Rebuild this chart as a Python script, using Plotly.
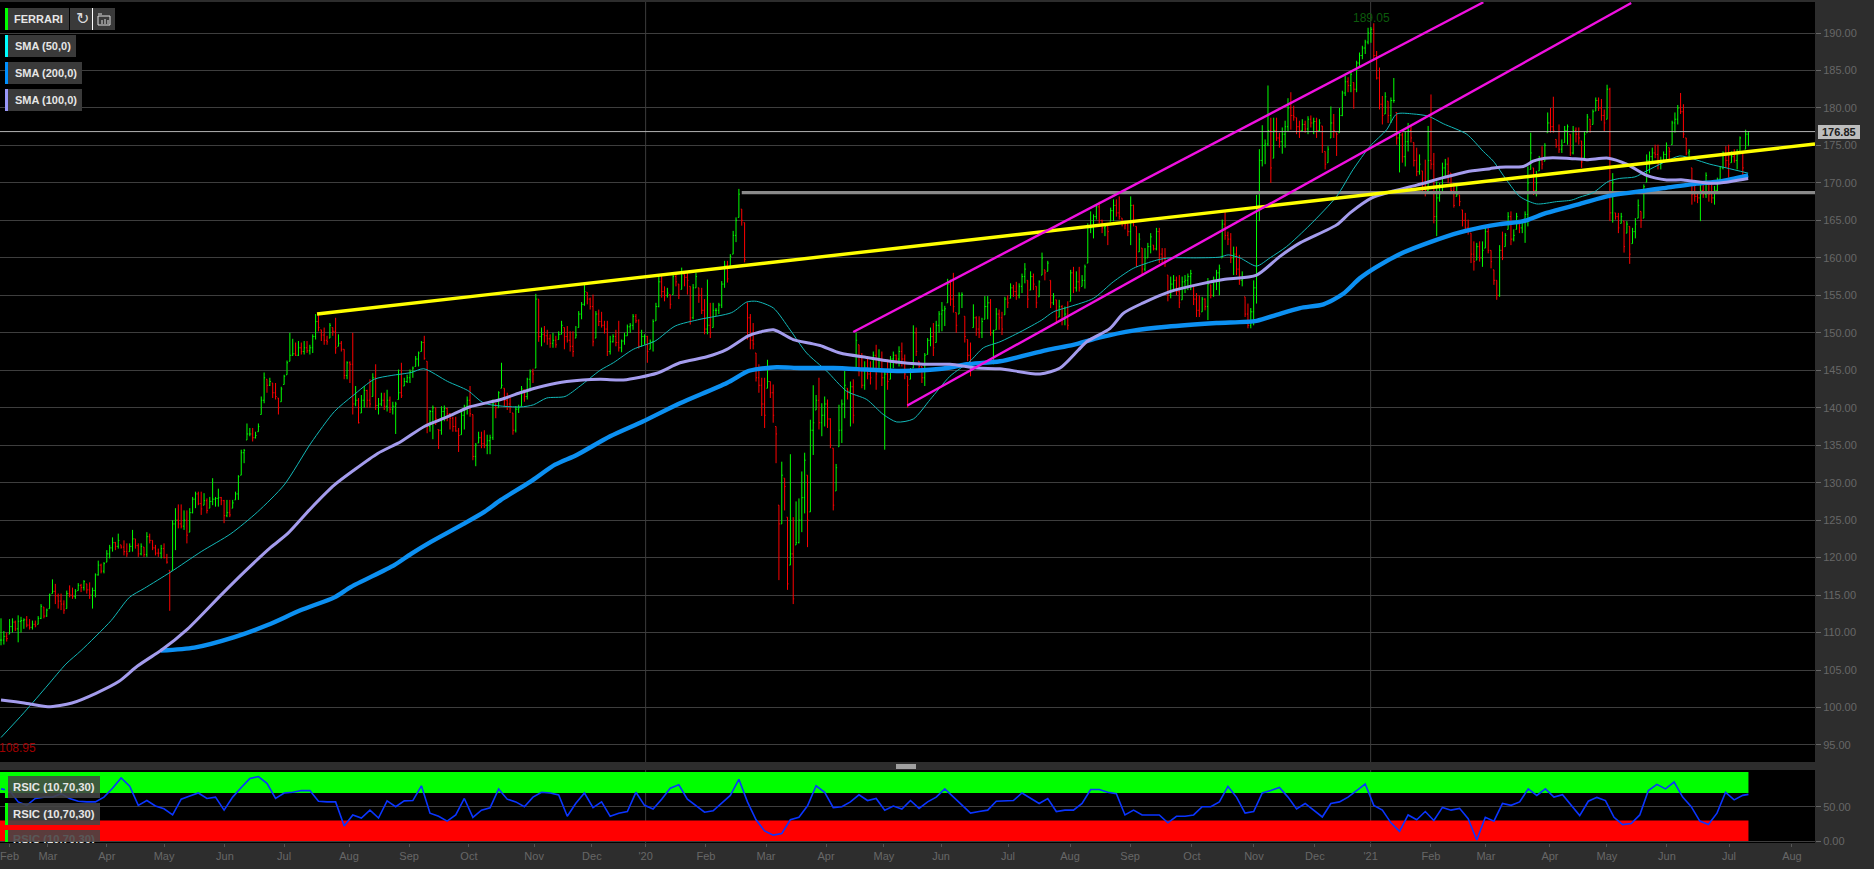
import numpy as np
import plotly.graph_objects as go

# ---- price bars (high / low / close), four stretches of the session axis
highs_2019a = [111.9,110.2,110,111.8,111.9,111.6,112.3,112.1,111.9,112.2,
111.8,111.6,111.6,112.2,113.8,113.4,113.2,115.2,117.1,116.5,
115.2,115.2,114.3,115.6,116.3,116,115.8,116.6,116.5,117,
116.5,116.7,116,117.9,119.6,119.2,119.4,121,121.7,122.7,
122.1,123.2,121.7,122.3,121.9,121.9,123.7,122.5,121.9,121.9,
121.4,123.4,123.2,122.3,121.7,121.2,121.7,121.9,120.5,118.3,
125,126.6,127.1,127.1,126.3,126.3,126.6,128.1,128.8,128.8,
128.8,128.6,127.9,128.1,130.6,128.1,129.2,128.1,127.7,127.7,
127.7,127.7,128.8,131,134.4,134.5,137.9,137.3,137.3,136.8,
137.9,141.5,144.7,143.8,144,143.3,143.3,141.3,142.8,144.4,
146.3,150,149.2,148.7,148.9,148.7,148.9,148.9,148.4,149.8,
152.5,152.5,150.4,150.7,149.6,151.3,150.7,152,149.8,148.9,
147.8,146.2,146.2,150,142.9,141.3,141.7,142.9,142.4,143.8,
144.6,145.8,141.3,142,142,142.4,141.5,140.8,140.8,145.1,
146,144,144.4,145.1,145.5,146.9,147.5,148.9,149.6,146.2,
139.7,140.3,140,137.1,140.2,140.3,140,139.3,138.8,138.8,
137.3,139.7,140.4,141.5,142.9,139.1,135.3,136.8,136.8,137,
136.4,136.4,141.1,140.6,142.2]
lows_2019a = [108.3,108.4,108.8,109.8,110,110.2,108.7,110,110.5,110.7,
110.4,110.4,110.7,111.1,111.8,111.9,112.1,113.2,115.2,113.8,
113.2,113,112.5,113.2,114.7,114.5,114.5,115.6,115.4,115.6,
115.2,114.5,113.2,114.7,117.6,117.9,117.9,119.4,119.9,120.8,
121,121.2,121.2,120.3,120.1,120.8,120.8,121.2,120.1,120.3,
120.1,120.1,121.9,121,120.3,120.1,119.9,119.9,119.2,112.9,
118.3,121,123.9,123.9,123.7,121.9,123.4,125.9,126.6,127,
125.7,127,125.9,126.6,127,126.8,126.8,127,124.6,125.4,
125.4,126.6,127.7,127.7,131,132.6,135.7,136.2,135.5,135.9,
136.8,139.1,140.6,142,142.9,141.3,141.1,139.1,140.8,143.1,
144.4,146.2,146.9,146.9,146.9,147.1,147.1,147.3,147.1,147.3,
149.1,150.2,148.9,148.4,148.4,149.3,149.6,147.2,148.2,147.5,
143.8,143.8,143.3,139.1,140.2,137.9,139.3,140,140,140,
141.5,139.7,139.1,140.2,139.7,139.5,139.3,139.1,136.5,141.1,
141.3,142.9,143.3,143.3,144,145.5,145.5,147.5,146.4,136.6,
136.8,135.8,137.7,134.5,136.4,138.2,138.2,137.1,136.8,136.8,
134.1,136.4,137.1,139.1,138.8,133,132.2,135.3,134.6,134.6,
133.8,133.8,135.7,138.6,140]
closes_2019a = [109,109.5,109.2,110.8,111.4,110.5,111.5,111.6,111.7,111,
110.7,111.1,110.9,111.9,113.5,112.2,113,115,115.5,114.9,
114.2,113.8,113,115.2,115,114.8,115.5,116.3,116,116.8,
115.7,115,115.6,117.7,119,118.2,119.2,120.5,121.3,122,
121.5,122.3,121.4,120.8,120.5,121.5,122.5,121.6,120.5,121.5,
120.4,122.8,122.3,121.3,120.6,120.6,121.2,120,119.4,118,
124.5,125,124.5,124.2,125,123,126,127.8,128.5,127.2,
126.5,127.6,126.3,127.5,127.8,127.9,128,127.6,125.6,126,
125.7,127.3,128.5,130.8,134,134.3,136.5,136.5,136,136.3,
137.5,141,144,143,143.5,142,141.5,140,142.5,144.2,
146,147,147.2,147,148,147.5,148,147.6,148,149.5,
151.5,150.7,149.7,149,148.8,151,150.2,148,148.6,147.8,
144.3,146,145.8,140.5,141,138,141,142.3,141,140.5,
144,140.3,140.5,141,140.2,141,139.8,140.2,140.5,142,
141.6,143.5,144,144.8,145.3,146.5,147.3,148.7,146.6,137.5,
139.5,140,138.5,137,139.5,139.9,139.2,138.6,137.5,136.9,
136.3,139,140.2,141,139.2,133.5,135,136,135.2,135,
135.6,136,140.5,140,142]

highs_2019b = [146,142.6,142,141.5,139.3,140.2,140.4,142.9,142.4,144,
145.1,145.2,155.2,154.5,150.7,150.9,150.4,149.8,150,149.6,
150.2,151.6,150.7,150.9,150.2,150.2,150.9,152.9,154.1,156.4,
155.4,154.7,155.1,152.9,153.1,152.8,151.6,151.6,149.6,149.8,
150.4,151.6,149.1,150,151.1,151.3,152.5,152.5,151.8,150.4,
149.8,149.6,149.1,151.8,154,157.6,157.8,156.2,156,155.1,
158,157.8,156.5,158.7,157.8,158,156.2,156.5,158,156,
156,154.5,157.1,154,154,153.3,154,156.9,159.6,159.6,
160.5,163.6,165.4,169.2,166.5,164.7,154,152.5,151.3,147.3,
145.8,144,144,146.4,143.5,143.1,137.5,127,132.8,130.6,
125.4,133.8,125.4,127.5,127.9,131.5,134,131,138.4,143,
141.7,144,140.6,141.5,141.1,138.6,134.6,132.5,140.4,141.1,
144.9,142.6,143.5,143.8,150,148.4,147.3,146.2,146.9,146.2,
147.5,148.4,147.8,147.5,145.1,146.4,146.9,147.5,147.1,148.2,
148.7,147.1,144.2,145.3,151,150.7,146.2,145.5,147.3,149.3,
150.7,151.3,151.6,152.9,154.1,153.6,157.2,157.1,158,152.7,
155.4,155.4,152.2,149.1,148.7,153.8,152.2,152.2,152,154.9,
154.9,154.5,150.4,153.3,153.1]
lows_2019b = [142.6,140.2,139.7,139.3,136.4,136.7,139.3,140.2,140.8,141.1,
142.2,143.3,145.3,148.8,148.2,148.7,148.4,148,148,148,
149.1,149.8,147.8,148.7,147.5,146.8,149.3,150.7,151.8,153.6,
153.8,153.1,148.2,149.3,150.9,150.7,149.9,146.9,147.1,148.7,
148.2,147.5,147.4,148.4,149.6,150,150.4,151.3,147.9,148.2,
148.4,146,147.8,147.5,151.6,153.4,154.7,154.2,154.7,153.2,
155.1,156.2,154.5,155.8,156.2,155.1,151.1,151.8,156,154,
152.5,149.8,149.8,149.3,150.7,152.2,152.5,153.3,156,156.7,
158.9,160.5,162.1,165.4,164.3,159.4,149.1,147.8,147.8,143.5,
142,138.9,137.3,142.6,141.3,138,132.6,117,124.5,126.3,
115.7,119,113.8,121.7,121.9,123.4,125.9,121.4,126.1,133.7,
139.7,137.1,136.2,137.5,137.3,134.6,126.3,128.9,134.8,135.3,
138.6,141.1,137.5,137.9,145.3,144.2,142.6,142.4,143.8,143.1,
144.9,142.4,144.9,142.9,134.4,142.4,143.8,145.3,145.8,145.5,
145.5,143.8,140,143.8,145.3,146.9,145.1,143.3,142.9,147.1,
148.2,146.9,148.7,150,150.2,150.9,154,153.6,152.7,150,
152.5,153.3,148.7,146.2,144.2,150.7,149.6,149.3,149.3,151.8,
151.8,149.6,145.8,150.4,150.4]
closes_2019b = [143,141,140.5,140,137,139.8,140,142.5,141.5,143.8,
144.8,144.5,154.5,149.5,149.8,149.6,149.2,148.6,149,148.4,
149.8,151,149.5,149,148.2,147.5,149.7,152.5,153.8,155.5,
154.5,153.5,148.8,152.5,151.5,151,150.5,147.5,148.8,149.5,
148.7,148,148.9,149.6,150.8,151,152.2,151.6,148.2,149.5,
149.5,147.5,148.8,151.5,153.5,156.8,155.5,155,155.3,153.8,
157.5,156.8,155,158,157.4,157,152,156,157.5,155,
153,150.5,151,150,153,153,153.7,156.5,159,157.2,
160.2,163,165,168.5,165,159.8,152,149,148.5,144,
143,140.5,139,143.5,142,139,136.5,124.5,131,129.5,
116.5,120.5,114.5,122,125,128,133,125,137,138,
141,138,139,140.5,138.5,135,127,132,137,140.5,
143,142.2,142.8,139,149,145,143,145,144.5,144,
147,144.5,146.5,144,144.5,143.5,146.5,147,146.5,147.5,
146.5,144.5,143,145,150,147.5,145.5,144,147,149,
149.5,148,151,152.5,153,153.2,156.5,154.5,153.5,151,
155,155.1,149.5,147,145,152,150.5,150,151.5,153.5,
154,150,150.3,152.5,152]

highs_2020 = [152.8,154.8,155,156.6,156.4,156.8,156.6,157.9,159.3,157,
158.2,157.9,156.2,157,160.7,158.4,159.6,157,155.3,154.4,
154.4,153.7,153.5,154.2,158.4,158.8,158.2,158.8,157.7,159.1,
164.6,166.2,165.8,167.1,167.5,165.1,164.6,164.2,166.7,167.8,
167.8,168.2,165.3,164.9,164.9,168.2,167.1,164.2,163.3,161.3,
161.3,162,163.3,161.7,164,164,161.3,161.3,157.7,157.5,
157.7,157.5,157.7,157.5,157.7,157.9,158.4,156.2,155.3,155,
154.8,154.6,157.3,156.4,157.5,158.4,159.1,165.1,166.1,163.5,
163.3,161.5,161.5,160.4,158.2,154.8,153.9,153.3,157,168.4,
174.5,177.7,175.8,183,178.7,178.7,178.7,176.7,177.4,178.3,
181.3,182.1,180.3,178.7,178.3,178.5,178.3,178.9,179,178.7,
178.7,178.5,177.6,174.2,174.9,180.2,179.2,176.7,180,182.3,
184.3,184.1,185,183.4,186.3,187.4,188.3,189.1,190.7,190.8,
191.3,187.6,185.4,181.6,182.1,180.9,181.4,184,179.4,176.7,
176.7,176.9,178,177.6,175.4,174.7,173.8,171.6,173.1,177.6,
181.8,174,170.2,170,172.7,173.2,173.4,171.3,170,169.8,
168.4,166.4,166,165.1,163.3,162.2,162,162.2,162.2,164,
164.2,161,158.4,157]
lows_2020 = [149.7,152.4,153.3,154.6,154.8,154.4,154.6,155.3,156.6,153.3,
155.7,155.7,153.3,154.8,157.7,157,158.2,153.3,153.7,151.2,
152.1,151,151,150.4,154.2,155.3,155.5,155.5,156.2,155.9,
159.3,163.3,162.6,165.1,164.6,163.3,162.9,161.7,164.9,164.9,
165.5,165.1,164.2,163.8,162.9,161.7,164.2,158.8,160.8,157.7,
158.2,160,160.6,161,161,159.3,159.1,158.8,154.2,154.6,
155.5,155,153.3,154.4,155.3,155.7,155.7,153.7,152.1,152.1,
152.8,153,151.7,154.6,154.8,155.7,155,160,162.4,161.7,
159.3,157.7,157.7,156.4,156.2,152.1,150.6,150.6,151,153.9,
164.9,172.2,172.5,174.9,170,173.3,175.6,174.7,173.9,174.7,
176.9,177.1,178.3,176.5,176,176.9,176.7,176.5,177.4,176.5,
176,176.9,174,171.8,172.7,176,176,173.6,176.7,178.9,
181.6,182.1,182.1,179.9,182.1,185.4,186.5,187.2,188.5,188.7,
186.5,183.8,179.8,177.8,179.2,178,178,180.7,175.1,171.4,
172.7,172.2,174.2,175.4,172.2,170.9,171.1,168.9,168.2,168.7,
171.8,164.6,162.9,167.5,168.7,170.9,170,168.7,166.7,168.2,
166.9,164.2,163.5,163.1,159.3,158.3,159.7,159.5,158.8,161.3,
160.6,158.6,156.4,154.4]
closes_2020 = [150.5,154.5,154,156,155.5,155,156.2,157.5,158.5,154.5,
157.5,156.5,154,156.8,160,158,159.3,154,154.8,152,
153.5,151.8,152.5,151,158,156,156.8,156,157,158.8,
164,164,165.5,166.8,165,164,164.2,163.5,166.3,167,
166,165.5,164.7,164.4,163.5,167,165,160,162.5,158.5,
160,161.5,162.8,161.2,163.5,160.5,160,159.5,155,156.5,
157,155.5,154,156.8,157,157.5,157.9,154.5,153,152.5,
154.5,153.5,156.5,155,157,158,158.6,164.5,163,162.5,
160,160.5,158.5,157,157.2,152.5,151,152.8,156,167,
173,175,175.2,177,172,177,176,175.5,176.5,177.5,
180,179,178.8,177.5,177,177.8,177.2,178.5,178,178.2,
177,178,175,172.5,174.5,178,177,176.5,179,182,
183.5,183,184.5,182.5,186,187,188,188.8,190,190.5,
187,184,180.5,179,181.5,179,181,181,176,176.4,
173.5,175.5,177,176,173,171.5,172.5,170,169,173,
172.5,165.5,168,168.5,172,172.5,171.5,169,167,168.5,
167.5,165,164,163.8,160.5,159.5,161.5,160,161,163.5,
161,159.5,157,155]

highs_2021 = [161.7,163.5,163.3,166.1,166.2,163.8,166,164.6,165.1,166.2,
172.2,176.7,172,171.6,173.6,174.9,175.3,179.4,180,181.5,
175.8,177.8,175.8,177.6,177.8,176.5,177.6,177.4,177.4,175.6,
176.9,179.2,178.5,179.8,181.4,181.4,181.2,179.8,183.1,182.7,
171.3,166,166,166,164.9,164.9,164.2,164,165.3,167.8,
166.2,169.8,173.8,174.2,174.7,175.1,175.1,173.5,174.2,175.4,
174.7,178.3,179.4,180.4,182,180.5,176,174.5,172,170.4,
168.9,169.8,169.8,171.4,169.8,169.8,169.6,170.7,172.2,174.2,
174.9,175.1,174.2,174.5,174.5,176.2,174,177.1,176.9]
lows_2021 = [154.8,159.7,161.5,163.8,161.7,162.2,163.8,163.3,163.3,162,
164.2,171.8,168.4,168.2,171.6,171.8,172.9,176.7,176.7,176.7,
174.7,174,174,175.4,175.1,173.6,173.8,175.4,175.1,172,
173.3,176.7,176.7,177.8,179.6,179.6,178.3,176.9,178.5,164.9,
164.7,165.1,163.3,164.6,160.7,163.3,159.2,161.9,162.6,165.3,
164,165.3,170.1,171.3,172.7,173.3,171.8,171.8,172.7,173.1,
173.1,175.1,176.7,177.8,179.2,176,173.7,173.3,167.1,167.5,
167.3,164.9,168,168,167.5,167.3,167.1,168.9,170.2,171.8,
172,170.7,172.7,172.7,171.8,174.2,170.9,174.5,174.9]
closes_2021 = [161,160,163,165.5,162.5,163,165.5,164,165,165.8,
170,174,169,170,173,172.5,175,178,177.5,177,
175,174.5,175,177,177.5,174,177,176.5,176,172.8,
176.5,178.8,177.5,179.5,181,180,179,178,182.5,166,
170,165.5,164,165.5,161.5,164.5,160.5,163.5,164.5,167,
165,169.5,173,173.5,174,173.8,172.5,172.8,173.8,175,
174.2,178,178.5,180,179.5,176.5,174,174.2,168.5,168.2,
168,169,168.5,171,168.5,168,169,170.5,172,174,
173,172.5,173.5,173,174,176,172,176.5,176.85]

# first and last session number of each stretch above
stretches = [(0, 174), (175, 349), (350, 523), (524, 611)]
last_bar = 611
axis_end = 634.27

# ---- moving averages, read at their bends: session number / price
sma50_x = [0,8,16.4,22.7,28,38.5,44.9,50.1,59.4,70,80.4,89.7,99,108.4,116.6,123,130.5,136.4,143.4,147.8,156.2,163.2,169,
181.5,186.2,190.8,197.2,202.5,209.5,214.1,221.1,228.7,235.7,244.4,255.5,260.7,264.2,270.1,275.9,281.7,288.7,295.7,302.7,308.5,313.2,319,324.9,331.8,338.8,343.5,349.3,
356.3,363.9,368,373.8,382,388.9,395.9,404.1,408.7,418,426.2,429.1,433.2,439,443.7,449.5,457.7,467,472.8,478.7,484.5,488,493.8,499.1,504.3,512.5,518.3,
521.8,526.4,531,536.9,543.9,549.1,552,556.7,562,566,571.3,575.4,581.2,587,591.7,597.5,603.3,610.9]
sma50_y = [96,99.3,103,105.8,107.6,111.6,114.7,115.9,118.1,120.8,123.2,126.1,129.7,135.3,139.5,141.6,143.8,144.3,144.7,145.2,143.5,142.3,140.6,
140.1,140.4,141.3,141.5,142.9,145,146,147.8,148.9,150.9,151.8,152.7,154.1,154.2,153.3,150.4,147.3,144.9,142.2,141.1,139.1,138.1,138.5,141.1,144.2,146.2,148,148.8,
150.1,151.7,152.8,153.5,154.6,156.8,158.6,159.7,160,160,160.1,160.4,160,158.9,160,161.5,164.4,168.2,171.8,174.9,177.1,179.2,179.2,178.9,177.9,176.5,174.2,
172.9,170.4,168.2,167.2,167.5,167.7,168.1,168.7,170.2,170.6,170.8,171.6,172.7,173.6,173.2,172.5,172,171.3]

sma100_x = [0,8.1,16.4,24.8,33.2,41.3,47.6,53.9,55.9,65.3,76.9,85.1,94.4,100.2,108.4,116.6,123.5,131.7,139.9,148,156.2,163.8,174.8,
181.5,189.7,197.8,209.5,217.6,229.3,237.4,246.8,253.8,261.3,265.4,270.1,277,282.9,286.4,293.4,302.7,310.9,322.5,331.8,341.2,349.3,
363.3,370.3,376.7,379.6,387.8,392.4,399.4,408.7,419.2,427.4,439,447.2,454.2,467,471.7,479.3,485.7,495,504.3,512.5,520.6,
524.1,532.3,535.7,539.8,547.4,554.4,562,568.4,575.4,582.4,588.2,596.4,601,610.9]
sma100_y = [101,100.6,100.1,100.6,101.9,103.5,105.5,107.1,107.6,110.5,115,118.1,121.4,123.2,126.6,129.7,131.7,133.9,135.5,137.5,138.8,140.1,141.1,
142,142.9,143.5,143.8,143.7,144.6,146,146.8,147.8,149.6,150.1,150.4,149.1,148.6,148.3,147.3,146.7,146.2,145.8,145.8,145.3,145.2,
144.5,145.3,147.7,148.8,150.6,152.6,154,155.5,156.5,157.1,157.7,160.2,162,164.4,166,168,168.8,169.7,170.7,171.5,171.9,
172.1,172.2,172.9,173.3,173.3,173.1,173.3,172.5,171,170.4,170.4,170,170,170.6]

sma200_x = [55.9,67.6,81.6,93.2,104.9,116.6,122.4,137.5,143.4,150.3,160.8,169,174.8,
185,193.7,201.3,213,224.6,237.4,253.8,261.3,265.4,271.2,279.4,291,302.7,314.4,322.5,330.7,337.7,349.3,
365.6,374.9,384.3,395.9,407.6,425,439,446,454.2,462.4,469.3,475.2,481,490.3,499.7,510.1,518,
524.1,532.3,540.4,552.1,562.6,575.4,581.2,592.9,601,610.9]
sma200_y = [107.6,108,109.4,111,113,114.7,116.1,119,120.5,122.1,124.3,126.1,127.7,
130.1,132.4,133.7,136.2,138.2,140.6,143.3,144.9,145.2,145.4,145.3,145.3,145.1,144.9,145,145.3,145.8,146.2,
147.7,148.4,149.4,150.3,150.8,151.3,151.6,152.4,153.3,153.8,155.2,157.3,158.8,160.7,162.1,163.4,164.1,
164.5,164.9,166,167.2,168.3,169,169.3,169.9,170.2,171]

# ---- drawn trend lines: session number / price at the two ends
yellow_x = [110.5, 634.27]
yellow_y = [152.5, 175.2]
grey_x = [259, 634.27]
grey_y = [168.7, 168.7]
magenta_upper_x = [298, 518.3]
magenta_upper_y = [150.1, 194.1]
magenta_lower_x = [316.9, 570]
magenta_lower_y = [140.3, 194]
last_price = 176.85
highest = 189.05
lowest = 108.95

# ---- RSI, every third session
rsi_values = [76,73.5,57,52,62,64,64,69,62,58,57,57,64,77,92,80,52,59,51,47,
38,61,65.5,70,62,64,45,64,78,91,94,84,62,70,71,73.5,73.5,58,57,57,
22,38,33.5,45,33.5,58.5,50,58.5,59,80.5,40.6,36,
29,38,62,34.5,45,48.5,76,61,57,50,64,71,70,67,36,55,70,48.6,57,36,
40.6,43,71,52,46.7,61,77,82,61,52,42,44,55,66.5,90,57,31,14.7,8.6,11,
31,34.5,51.4,80.5,71,48.6,50,57,67.4,59,62,
45,51,46.7,59,47.6,57,64,76,64,52,40.6,43,45,58,59,59,70,62.7,54.7,61.8,
43,45,45,54.7,75,75,71,69,38,45,38,38,38,26.5,36,36,38,50,50,57,
79.6,64,40.6,43,70,73.5,78,64,46.7,54.7,45,
35,54.7,57,64,73.5,83,52,45,26.5,14,38,31,43,30,49,45,47.6,32.6,1.5,34.5,
29,54.7,52,57,76,66.5,76,64,67.4,52,37,58,63.6,59,34.5,24,25.5,38,73.5,82.5,
76,86,64,50,29,24,40.6,71,60,66.5,68]

month_labels = ["Feb","Mar","Apr","May","Jun","Jul","Aug","Sep","Oct","Nov","Dec","'20",
                "Feb","Mar","Apr","May","Jun","Jul","Aug","Sep","Oct","Nov","Dec","'21",
                "Feb","Mar","Apr","May","Jun","Jul","Aug"]
month_sessions = [3,16.4,37,57,78.3,99,121.7,142.7,163.6,186.4,206.6,225.4,
                  246.5,267.5,288.5,308.7,328.7,352.1,373.8,394.8,416.4,438.1,459.4,478.9,
                  500,519.2,541.6,561.5,582.5,604.2,626.2]

price_ticks = list(range(95, 195, 5))
rsi_ticks = [0, 50]

W, H = 1874, 869
SANS = "Liberation Sans"

def px(x):
    return x / W

def py(y):
    return 1 - y / H

# ---- assemble the bars
highs = highs_2019a + highs_2019b + highs_2020 + highs_2021
lows = lows_2019a + lows_2019b + lows_2020 + lows_2021
closes = closes_2019a + closes_2019b + closes_2020 + closes_2021
counts = [len(highs_2019a), len(highs_2019b), len(highs_2020), len(highs_2021)]
sessions = np.concatenate([np.linspace(a, b, n) for (a, b), n in zip(stretches, counts)])
opens = [closes[0]] + [min(max(c, l), h) for c, l, h in zip(closes[:-1], lows[1:], highs[1:])]
rsi_x = [min(3 * k, last_bar) for k in range(len(rsi_values))]

fig = go.Figure()
fig.add_trace(go.Ohlc(x=sessions, open=opens, high=highs, low=lows, close=closes,
                      increasing=dict(line=dict(color="#00ff00", width=1)),
                      decreasing=dict(line=dict(color="#ff0000", width=1)),
                      tickwidth=0.35, hoverinfo="skip", showlegend=False))

def line(x, y, color, width, xa="x", ya="y", smooth=False):
    style = dict(color=color, width=width, shape="spline", smoothing=0.7) if smooth else dict(color=color, width=width)
    fig.add_trace(go.Scatter(x=x, y=y, mode="lines", xaxis=xa, yaxis=ya, line=style,
                             hoverinfo="skip", showlegend=False))

line([-1, axis_end], [last_price, last_price], "#b4b4b4", 1)
line(grey_x, grey_y, "#8a8a8a", 3.2)
line(sma50_x, sma50_y, "#12b8b8", 1, smooth=True)
line(sma200_x, sma200_y, "#0c90f2", 4.4, smooth=True)
line(sma100_x, sma100_y, "#a49ced", 3, smooth=True)
line(yellow_x, yellow_y, "#ffff00", 3.4)
line(magenta_upper_x, magenta_upper_y, "#f010e0", 2.4)
line(magenta_lower_x, magenta_lower_y, "#f010e0", 2.4)
line(rsi_x, rsi_values, "#0a35ff", 1.6, "x2", "y2")

shapes = []
# RSI overbought / oversold bands, through the RSI scale
shapes.append(dict(type="rect", xref="x2", yref="y2", x0=-1, x1=last_bar, y0=70, y1=100.6,
                   fillcolor="#00ff00", line_width=0, layer="below"))
shapes.append(dict(type="rect", xref="x2", yref="y2", x0=-1, x1=last_bar, y0=-1, y1=30,
                   fillcolor="#ff0000", line_width=0, layer="below"))
# year separators
for s in (225.4, 478.9):
    shapes.append(dict(type="line", xref="x", yref="y domain", x0=s, x1=s, y0=0, y1=1,
                       line=dict(color="#3c3c3c", width=1), layer="below"))
    shapes.append(dict(type="line", xref="x2", yref="y2 domain", x0=s, x1=s, y0=0, y1=1,
                       line=dict(color="#3c3c3c", width=1), layer="below"))

def box(x0, y0, x1, y1, color):
    shapes.append(dict(type="rect", xref="paper", yref="paper",
                       x0=px(x0), x1=px(x1), y0=py(y1), y1=py(y0),
                       fillcolor=color, line_width=0, layer="above"))

def seg(x0, y0, x1, y1, color="#dddddd", width=1):
    shapes.append(dict(type="line", xref="paper", yref="paper",
                       x0=px(x0), x1=px(x1), y0=py(y0), y1=py(y1),
                       line=dict(color=color, width=width), layer="above"))

annotations = []

def label(x, y, text, size=11, color="#e6e6e6", bold=True, anchor="center", family=SANS, bg=None):
    annotations.append(dict(xref="paper", yref="paper", x=px(x), y=py(y), text=f"<b>{text}</b>" if bold else text,
                            showarrow=False, xanchor=anchor, yanchor="middle", bgcolor=bg,
                            font=dict(family=family, size=size, color=color), borderpad=0))

# top-left panel buttons
box(8, 8, 69, 30, "#3a3a3a"); box(5, 8, 8, 30, "#00ff00")
label(38, 19, "FERRARI")
box(70, 8, 92, 30, "#3a3a3a"); box(93, 8, 115, 30, "#3a3a3a")
seg(92.5, 8, 92.5, 30, "#ffffff", 1)
label(82, 19, "↻", size=16, bold=False, family="DejaVu Sans", color="#dddddd")
seg(98, 16, 110, 16); seg(98, 16, 98, 25); seg(98, 25, 110, 25); seg(110, 16, 110, 25)
seg(102, 20, 102, 24); seg(105, 19, 105, 24); seg(108, 20, 108, 24); seg(98, 14, 102, 14)
for y0, strip, w, text in [(35, "#00ffff", 76, "SMA (50,0)"), (62, "#0090ff", 82, "SMA (200,0)"), (89, "#9a98f8", 82, "SMA (100,0)")]:
    box(8, y0, w, y0 + 22, "#3a3a3a"); box(5, y0, 8, y0 + 22, strip)
    label((8 + w) / 2 + 0.5, y0 + 11, text)
# RSI buttons
for y0, y1 in [(776, 798), (803, 825), (830, 842)]:
    box(8, y0, 100, y1, "rgba(68,68,68,0.88)"); box(5, y0, 8, y1, "#00ff00")
label(54, 787, "RSIC (10,70,30)", size=11.3)
label(54, 814, "RSIC (10,70,30)", size=11.3)
# the third button's caption runs off the pane, so it goes through the RSI axes and is clipped there
fig.add_trace(go.Scatter(x=[18.5], y=[0.6], mode="text", xaxis="x2", yaxis="y2", text=["<b>RSIC (10,70,30)</b>"],
                         textfont=dict(family=SANS, size=11.3, color="#e6e6e6"), textposition="middle center",
                         cliponaxis=True, hoverinfo="skip", showlegend=False))

# pane divider handle
box(896, 764, 916, 769, "#a0a0a0")

# high / low / last price captions
label(1371, 18, f"{highest:.2f}", size=12, color="#0c5a0c", bold=False)
label(17, 748, f"{lowest:.2f}", size=12, color="#a00000", bold=False)
box(1818, 125, 1860, 139, "#bdbdbd")
label(1839, 132, f"{last_price:.2f}", size=11, color="#1c1c1c")

axis_font = dict(family=SANS, size=11, color="#676767")
fig.update_layout(
    width=W, height=H, autosize=False,
    margin=dict(l=0, r=0, t=0, b=0, pad=0, autoexpand=False),
    paper_bgcolor="#2d2d2d", plot_bgcolor="#000000",
    showlegend=False, hovermode=False, dragmode=False,
    shapes=shapes, annotations=annotations,
    xaxis=dict(domain=[0, 1815 / W], range=[-0.35, axis_end], anchor="y", showgrid=False, zeroline=False,
               showticklabels=False, ticks="", rangeslider=dict(visible=False), showline=False, automargin=False),
    xaxis2=dict(domain=[0, 1815 / W], range=[-0.35, axis_end], anchor="y2", showgrid=False, zeroline=False,
                tickmode="array", tickvals=month_sessions, ticktext=month_labels, tickfont=axis_font,
                ticks="outside", ticklen=3, tickcolor="#555555", tickwidth=1,
                rangeslider=dict(visible=False), showline=False, automargin=False),
    yaxis=dict(domain=[py(762), py(2)], range=[92.73, 194.14], anchor="x", side="right",
               tickmode="array", tickvals=price_ticks, ticktext=[f"{v:.2f}" for v in price_ticks],
               showgrid=True, gridcolor="#3e3e3e", gridwidth=1, zeroline=False, tickfont=axis_font,
               ticks="outside", ticklen=5, tickcolor="#676767", tickwidth=1, showline=False, automargin=False),
    yaxis2=dict(domain=[py(843), py(770)], range=[-2.9, 103.5], anchor="x2", side="right",
                tickmode="array", tickvals=rsi_ticks, ticktext=[f"{v:.2f}" for v in rsi_ticks],
                showgrid=True, gridcolor="#3e3e3e", gridwidth=1, zeroline=False, tickfont=axis_font,
                ticks="outside", ticklen=5, tickcolor="#676767", tickwidth=1, showline=False, automargin=False),
)

fig.write_html("out.html", config=dict(displayModeBar=False, responsive=False),
               post_script="document.body.style.margin='0';document.documentElement.style.overflow='hidden';")
